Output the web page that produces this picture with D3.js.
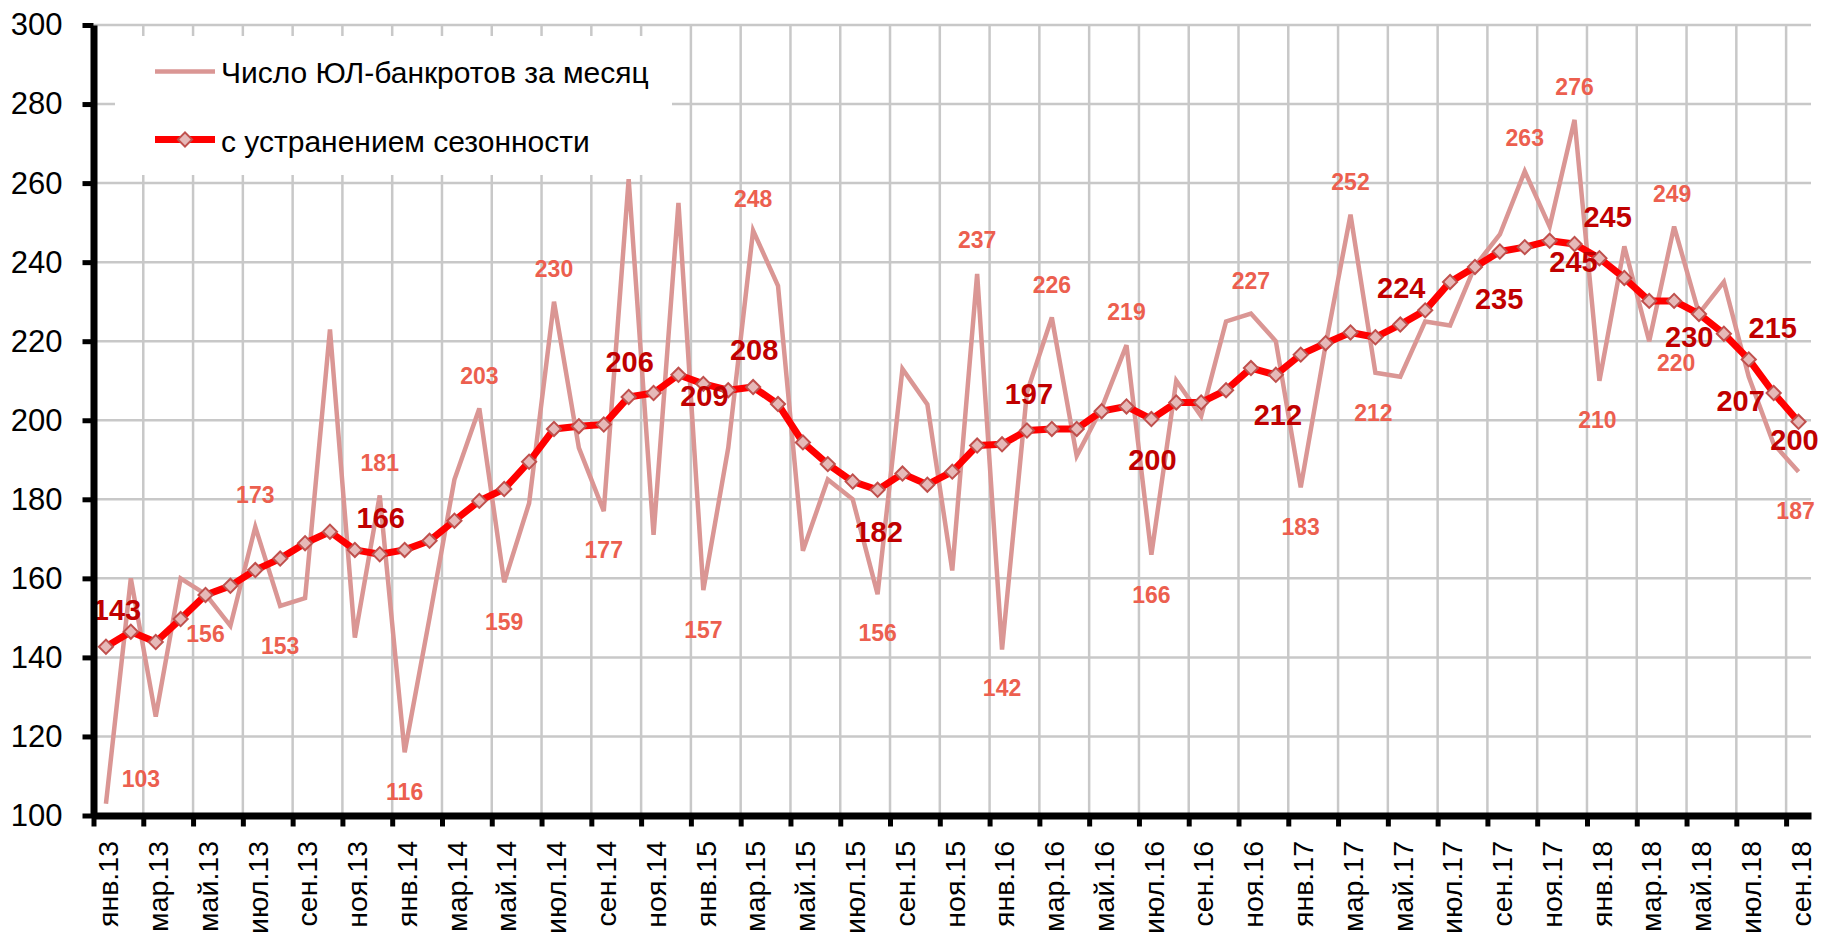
<!DOCTYPE html>
<html>
<head>
<meta charset="utf-8">
<script src="https://cdn.jsdelivr.net/npm/d3@7"></script>
<style>
  body { margin: 0; background: #fff; }
  svg { display: block; }
</style>
</head>
<body>
<svg id="chart"></svg>
<script>
// months on the x axis
var monthNames = ["янв.", "фев.", "мар.", "апр.", "май.", "июн.", "июл.", "авг.", "сен.", "окт.", "ноя.", "дек."];
var years = ["13", "14", "15", "16", "17", "18"];
var categories = [];
years.forEach(function(yr) {
  monthNames.forEach(function(m) { categories.push(m + yr); });
});
categories = categories.slice(0, 69); // янв.13 .. сен.18

// Число ЮЛ-банкротов за месяц
var raw = [103, 160, 125, 160, 156, 148, 173, 153, 155, 223, 145, 181,
           116, 150, 185, 203, 159, 179, 230, 193, 177, 261, 171, 255,
           157, 193, 248, 234, 167, 185, 180, 156, 213, 204, 162, 237,
           142, 207, 226, 191, 203, 219, 166, 210, 201, 225, 227, 220,
           183, 219, 252, 212, 211, 225, 224, 239, 247, 263, 249, 276,
           210, 244, 220, 249, 227, 235, 211, 194, 187];

// с устранением сезонности
var smooth = [142.7, 146.5, 143.9, 149.7, 155.8, 158.1, 162.1, 165.0, 168.9, 171.8, 167.2, 166.1,
              167.2, 169.5, 174.6, 179.6, 182.6, 189.5, 197.8, 198.5, 198.9, 205.9, 206.9, 211.5,
              209.2, 207.6, 208.4, 204.1, 194.4, 188.9, 184.5, 182.4, 186.5, 183.7, 187.0, 193.6,
              193.9, 197.4, 197.8, 197.8, 202.3, 203.5, 200.3, 204.5, 204.5, 207.6, 213.2, 211.5,
              216.6, 219.5, 222.2, 221.0, 224.2, 227.8, 235.0, 238.8, 242.7, 243.8, 245.4, 244.6,
              241.0, 236.0, 230.2, 230.2, 226.9, 221.9, 215.4, 206.9, 199.6];

var yTicks = [100, 120, 140, 160, 180, 200, 220, 240, 260, 280, 300];

// which points carry a value label
var rawLabelIdx = [0, 4, 6, 7, 11, 12, 15, 16, 18, 20, 24, 26, 31, 35, 36, 38, 41, 42, 46, 48, 50, 51, 57, 59, 60, 62, 63, 68];
var smoothLabelIdx = [0, 11, 21, 24, 26, 31, 37, 42, 47, 52, 54, 58, 59, 62, 66, 67, 68];

// label placement (offsets from the point, px)
var rawLabelDx = [35, 0, 0, 0, 0, 0, 0, 0, 0, 0, 0, 0, 0, 0, 0, 0, 0, 0, 0, 0, 0, -2, 0, 0, -2, 27, -2, -3];
var rawLabelDy = [-17, 48, -24, 48, -24, 48, -24, 48, -25, 47, 48, -24, 47, -26, 47, -24, -25, 48, -25, 48, -25, 48, -25, -25, 47, 30, -25, 47];
var smoothLabelDx = [11, 1, 1, 1, 1, 1, 2, 1, 2, 1, 49, 58, -1, 40, 24, -33, -4];
var smoothLabelDy = [-27, -26, -25, 22, -27, 52, -27, 51, 50, -27, 27, -14, 28, 46, -21, 18, 28];

var W = 1824, H = 939;
var plot = {left: 93.5, right: 1811, top: 25, bottom: 815.5};

var svg = d3.select("#chart")
  .attr("width", W)
  .attr("height", H);

var xi = d3.scaleLinear()
  .domain([0, categories.length])
  .range([plot.left, plot.right]);
function xc(i) { return xi(i + 0.5); }

var y = d3.scaleLinear()
  .domain([100, 300])
  .range([plot.bottom, plot.top]);

var tickIdx = d3.range(0, categories.length, 2);

// gridlines
var grid = svg.append("g").attr("stroke", "#c8c8c8").attr("stroke-width", 2.5);
grid.selectAll(".hg")
  .data(yTicks.slice(1))
  .enter().append("line")
  .attr("x1", plot.left).attr("x2", plot.right)
  .attr("y1", function(d) { return y(d); })
  .attr("y2", function(d) { return y(d); });
grid.selectAll(".vg")
  .data(tickIdx.slice(1))
  .enter().append("line")
  .attr("x1", function(d) { return xi(d); })
  .attr("x2", function(d) { return xi(d); })
  .attr("y1", plot.top).attr("y2", plot.bottom);

// legend box hides the grid behind it
svg.append("rect")
  .attr("x", 115).attr("y", 36)
  .attr("width", 557).attr("height", 139)
  .attr("fill", "#fff");

// raw monthly line
svg.append("path")
  .datum(raw)
  .attr("fill", "none")
  .attr("stroke", "#da9694")
  .attr("stroke-width", 4.5)
  .attr("stroke-linejoin", "miter")
  .attr("d", d3.line()
    .x(function(d, i) { return xc(i); })
    .y(function(d) { return y(d); }));

// seasonally adjusted line
svg.append("path")
  .datum(smooth)
  .attr("fill", "none")
  .attr("stroke", "#ff0000")
  .attr("stroke-width", 7)
  .attr("stroke-linejoin", "round")
  .attr("d", d3.line()
    .x(function(d, i) { return xc(i); })
    .y(function(d) { return y(d); }));

var diamond = d3.symbol().type(d3.symbolSquare).size(100);
svg.selectAll(".mk")
  .data(smooth)
  .enter().append("path")
  .attr("d", diamond)
  .attr("transform", function(d, i) { return "translate(" + xc(i) + "," + y(d) + ") rotate(45)"; })
  .attr("fill", "#e6b9b8")
  .attr("stroke", "#c0504d")
  .attr("stroke-width", 2);

// value labels
var labelFont = "'Liberation Sans Narrow', 'Arial Narrow', 'Liberation Sans', sans-serif";
svg.selectAll(".rl")
  .data(rawLabelIdx)
  .enter().append("text")
  .attr("x", function(d, k) { return xc(d) + rawLabelDx[k]; })
  .attr("y", function(d, k) { return y(raw[d]) + rawLabelDy[k]; })
  .attr("text-anchor", "middle")
  .attr("font-family", labelFont)
  .attr("font-weight", "bold")
  .attr("font-size", 23)
  .attr("fill", "#ec5f4f")
  .text(function(d) { return Math.round(raw[d]); });

svg.selectAll(".sl")
  .data(smoothLabelIdx)
  .enter().append("text")
  .attr("x", function(d, k) { return xc(d) + smoothLabelDx[k]; })
  .attr("y", function(d, k) { return y(smooth[d]) + smoothLabelDy[k]; })
  .attr("text-anchor", "middle")
  .attr("font-family", labelFont)
  .attr("font-weight", "bold")
  .attr("font-size", 29)
  .attr("fill", "#c00000")
  .text(function(d) { return Math.round(smooth[d]); });

// axes
var axisFont = "'Liberation Sans', Arial, sans-serif";
var yAxis = svg.append("g")
  .attr("transform", "translate(" + plot.left + ",0)")
  .call(d3.axisLeft(y).tickValues(yTicks).tickSize(11).tickSizeOuter(0).tickPadding(20));
yAxis.select(".domain").attr("stroke", "#000").attr("stroke-width", 7);
yAxis.selectAll(".tick line").attr("stroke", "#000").attr("stroke-width", 5);
yAxis.selectAll(".tick text")
  .attr("font-family", axisFont)
  .attr("font-size", 31)
  .attr("fill", "#000");

var xAxis = svg.append("g")
  .attr("transform", "translate(0," + plot.bottom + ")")
  .call(d3.axisBottom(xi).tickValues(tickIdx).tickSize(11).tickSizeOuter(0).tickFormat(""));
xAxis.select(".domain").attr("stroke", "#000").attr("stroke-width", 7);
xAxis.selectAll(".tick line").attr("stroke", "#000").attr("stroke-width", 5);

svg.selectAll(".xl")
  .data(tickIdx)
  .enter().append("text")
  .attr("transform", function(d) { return "translate(" + (xc(d) + 2) + ",841) rotate(-90)"; })
  .attr("text-anchor", "end")
  .attr("dy", "0.36em")
  .attr("font-family", axisFont)
  .attr("font-size", 28.5)
  .attr("fill", "#000")
  .text(function(d) { return categories[d]; });

// legend
var legend = svg.append("g");
legend.append("line")
  .attr("x1", 155).attr("x2", 215).attr("y1", 71.5).attr("y2", 71.5)
  .attr("stroke", "#da9694").attr("stroke-width", 4.5);
legend.append("line")
  .attr("x1", 155).attr("x2", 215).attr("y1", 139.5).attr("y2", 139.5)
  .attr("stroke", "#ff0000").attr("stroke-width", 7);
legend.append("path")
  .attr("d", diamond)
  .attr("transform", "translate(185,139.5) rotate(45)")
  .attr("fill", "#e6b9b8").attr("stroke", "#c0504d").attr("stroke-width", 2);
legend.append("text")
  .attr("x", 221).attr("y", 83)
  .attr("font-family", axisFont).attr("font-size", 30).attr("fill", "#000")
  .text("Число ЮЛ-банкротов за месяц");
legend.append("text")
  .attr("x", 221).attr("y", 151.5)
  .attr("font-family", axisFont).attr("font-size", 30).attr("fill", "#000")
  .text("с устранением сезонности");
</script>
</body>
</html>
